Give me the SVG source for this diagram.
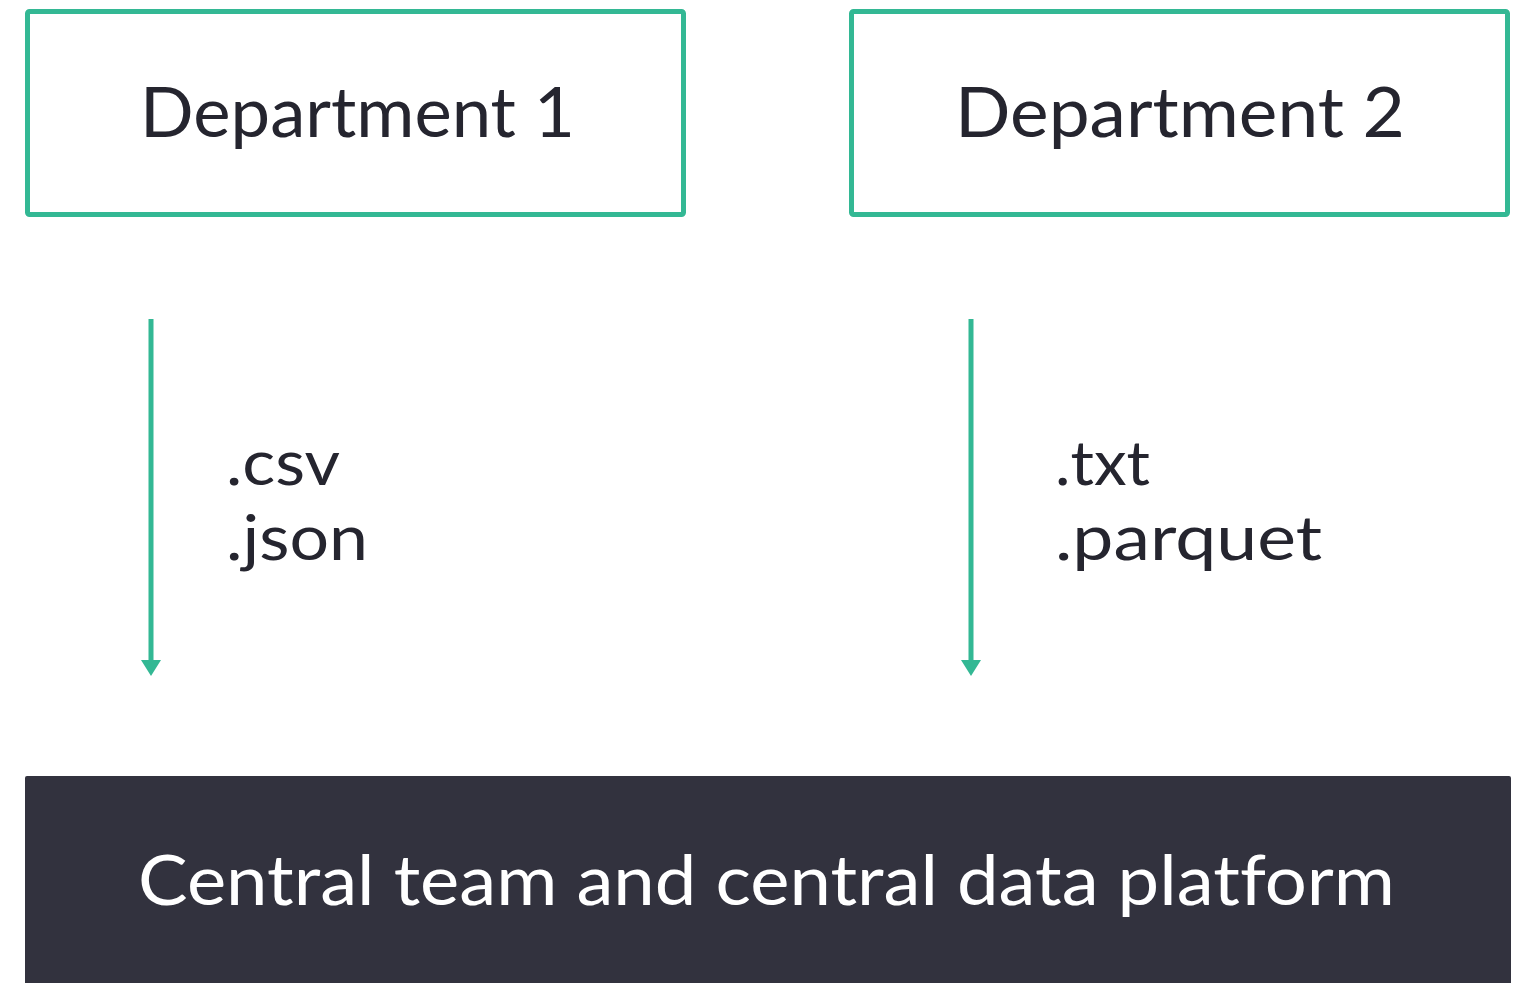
<svg xmlns="http://www.w3.org/2000/svg" width="1518" height="983" viewBox="0 0 1518 983">
  <style>
    text { font-variant-ligatures: none; }
    .dept { fill: #ffffff; stroke: #33b894; stroke-width: 5; }
    .label { font-family: Lato, "Open Sans", "Liberation Sans", sans-serif; font-size: 70px; fill: #25252f; }
    .fmt { font-family: Lato, "Open Sans", "Liberation Sans", sans-serif; font-size: 62px; fill: #25252f; }
    .platform-text { font-family: Lato, "Open Sans", "Liberation Sans", sans-serif; font-size: 70px; fill: #ffffff; }
    .flow { stroke: #33b894; stroke-width: 5; fill: none; }
  </style>
  <defs>
    <marker id="arrowhead" markerWidth="4" markerHeight="4" refX="0" refY="2" orient="auto" markerUnits="strokeWidth">
      <path d="M0,0 L3.2,2 L0,4 Z" fill="#33b894"/>
    </marker>
  </defs>
  <rect width="1518" height="983" fill="#ffffff"/>

  <g id="department-1">
    <rect class="dept" x="27.5" y="11.5" width="656" height="203" rx="2"/>
    <text class="label" x="140" y="137" textLength="435" lengthAdjust="spacingAndGlyphs">Department 1</text>
  </g>

  <g id="department-2">
    <rect class="dept" x="851.5" y="11.5" width="656" height="203" rx="2"/>
    <text class="label" x="955" y="137" textLength="450" lengthAdjust="spacingAndGlyphs">Department 2</text>
  </g>

  <g id="central-platform">
    <rect x="25" y="776" width="1486" height="220" rx="2" fill="#32323e"/>
    <text class="platform-text" x="138" y="905" textLength="1257" lengthAdjust="spacingAndGlyphs">Central team and central data platform</text>
  </g>

  <g id="connectors">
    <line class="flow" x1="151" y1="319" x2="151" y2="660" marker-end="url(#arrowhead)"/>
    <line class="flow" x1="971" y1="319" x2="971" y2="660" marker-end="url(#arrowhead)"/>
  </g>

  <g id="formats-1">
    <text class="fmt" x="226" y="485" textLength="114" lengthAdjust="spacingAndGlyphs">.csv</text>
    <text class="fmt" x="226" y="560" textLength="142" lengthAdjust="spacingAndGlyphs">.json</text>
  </g>

  <g id="formats-2">
    <text class="fmt" x="1055" y="485" textLength="95" lengthAdjust="spacingAndGlyphs">.txt</text>
    <text class="fmt" x="1055" y="560" textLength="267" lengthAdjust="spacingAndGlyphs">.parquet</text>
  </g>
</svg>
